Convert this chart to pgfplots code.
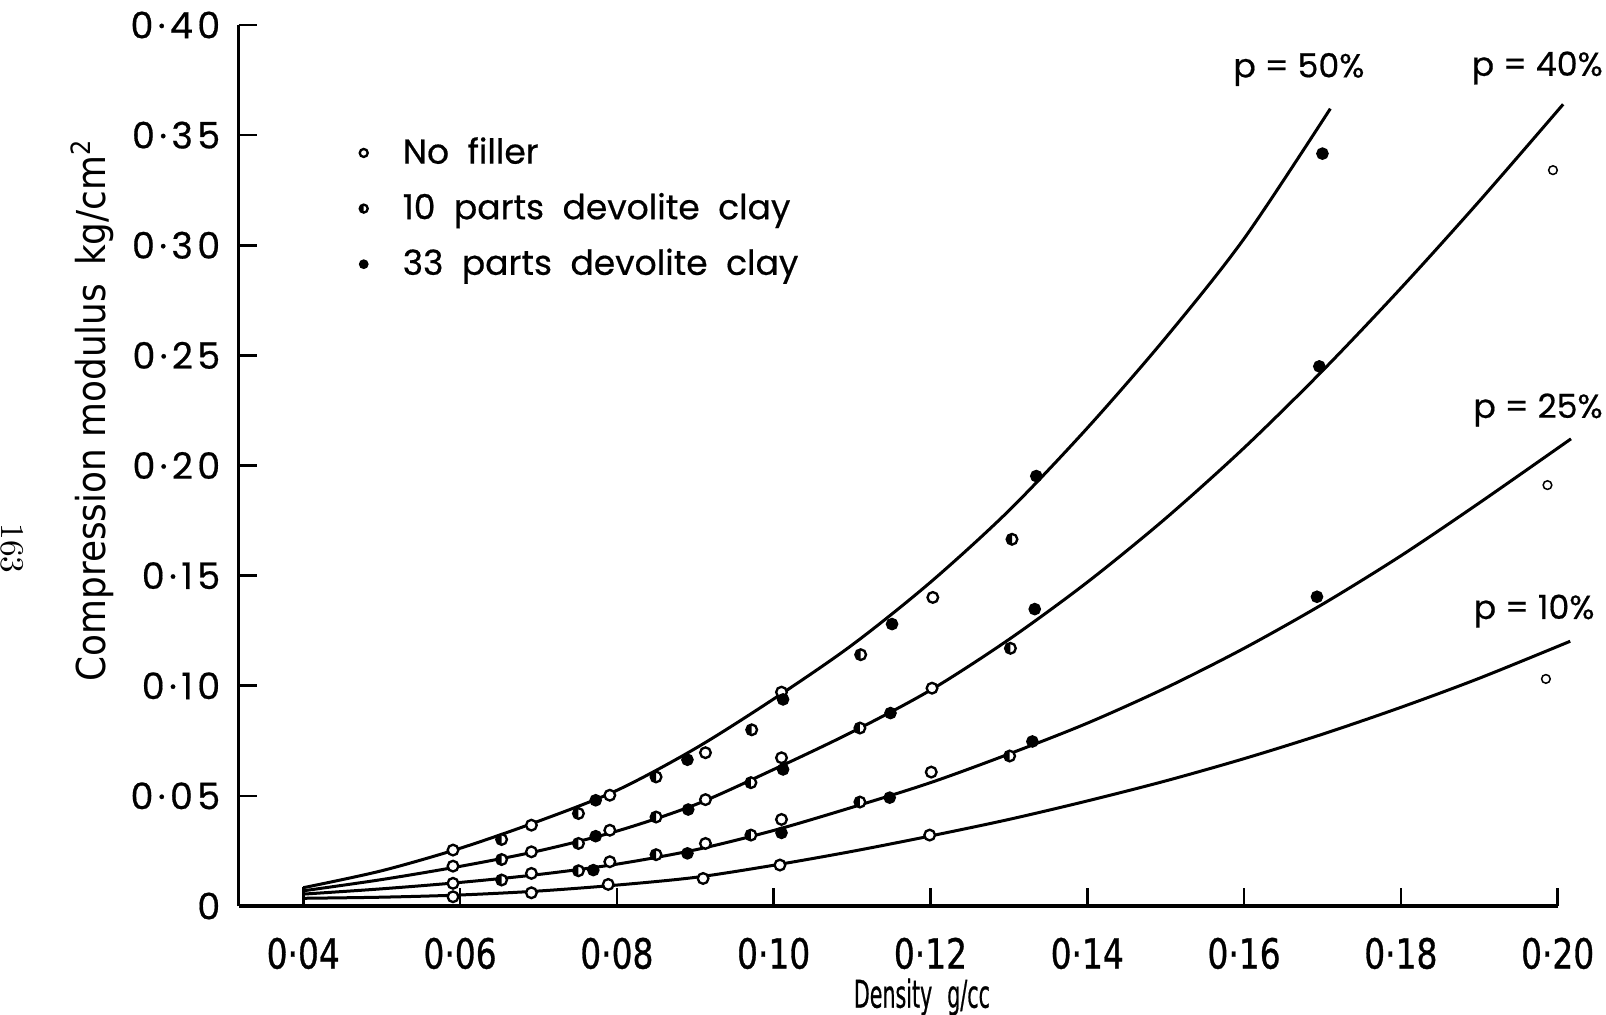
\documentclass[border=0pt]{standalone}
\usepackage{graphicx}
\usepackage{pgfplots}
\pgfplotsset{compat=1.18}
\usepackage{fontspec}
\newfontfamily\pop[FakeBold=0.5]{Poppins}
\newfontfamily\popw[LetterSpace=12,FakeBold=0.5]{Poppins}
\newfontfamily\djc{DejaVu Sans Condensed}
\newfontfamily\djcb[FakeBold=0.8]{DejaVu Sans Condensed}
\newcommand\cx[1]{\scalebox{0.88}[1]{#1}}
\usetikzlibrary{plotmarks}

\pgfdeclareplotmark{lhalf}{%
  \pgfpathcircle{\pgfpointorigin}{\pgfplotmarksize}%
  \pgfsetfillcolor{white}\pgfusepathqfill
  \pgfpathmoveto{\pgfqpoint{0pt}{\pgfplotmarksize}}%
  \pgfpatharc{90}{270}{\pgfplotmarksize}%
  \pgfpathclose
  \pgfsetfillcolor{black}\pgfusepathqfill
  \pgfpathcircle{\pgfpointorigin}{\pgfplotmarksize}%
  \pgfusepathqstroke
}

\begin{document}
\begin{tikzpicture}
\begin{axis}[name=ax,
  scale only axis, width=395.7bp, height=264.3bp,
  xmin=0.03176, xmax=0.20, ymin=0, ymax=0.40,
  enlargelimits=false, clip=false,
  axis lines=left, axis line style={-, line width=1bp},
  tick align=inside, major tick length=5.5bp,
  tick style={line width=0.8bp, black},
  xtick={0.04,0.06,0.08,0.10,0.12,0.14,0.16,0.18,0.20},
  xticklabels={\cx{0·04},\cx{0·06},\cx{0·08},\cx{0·10},\cx{0·12},\cx{0·14},\cx{0·16},\cx{0·18},\cx{0·20}},
  ytick={0,0.05,0.10,0.15,0.20,0.25,0.30,0.35,0.40},
  yticklabels={0\hspace{2bp},0·05,0·10,0·15,0·20,0·25,0·30,0·35,0·40},
  xticklabel style={font=\djcb\fontsize{12.5}{14}\selectfont, yshift=-6bp},
  yticklabel style={font=\popw\fontsize{11}{13}\selectfont, xshift=-2bp},
  xlabel={\scalebox{0.6}[1]{Density}\hspace{4.5bp}\scalebox{0.6}[1]{g/cc}},
  xlabel style={font=\djcb\fontsize{11.5}{14}\selectfont, at={(axis description cs:0.518,0)}, anchor=base, yshift=-30.5bp},
  ylabel={Compression modulus\, kg/cm\textsuperscript{2}},
  ylabel style={font=\djc\fontsize{12}{14}\selectfont, at={(axis description cs:-0.111,0.563)}, anchor=center},
  legend style={at={(axis description cs:0.0913,0.879)}, anchor=north west, draw=none, fill=none,
    font=\pop\fontsize{10.4}{12}\selectfont, row sep=4.3bp, inner sep=0pt,
    nodes={inner sep=1.5bp},
    /tikz/every odd column/.append style={column sep=9bp}},
  legend cell align=left,
  legend image code/.code={\draw[#1, mark size=1.2bp, line width=0.5bp] plot coordinates {(0.2cm,0cm)};},
]
% fitted curves
\addplot[black, line width=0.9bp, smooth, forget plot] coordinates {(0.040,0.0083)(0.050,0.0160)(0.060,0.0262)(0.070,0.0385)(0.080,0.0525)(0.090,0.0715)(0.100,0.0940)(0.110,0.1185)(0.120,0.1470)(0.130,0.1795)(0.140,0.2170)(0.150,0.2580)(0.160,0.3030)(0.171,0.3620)};
\addplot[black, line width=0.9bp, smooth, forget plot] coordinates {(0.040,0.0069)(0.050,0.0120)(0.060,0.0180)(0.070,0.0250)(0.080,0.0340)(0.090,0.0460)(0.100,0.0620)(0.110,0.0790)(0.120,0.0980)(0.130,0.1210)(0.140,0.1470)(0.150,0.1760)(0.160,0.2080)(0.170,0.2430)(0.180,0.2805)(0.190,0.3200)(0.2007,0.3640)};
\addplot[black, line width=0.9bp, smooth, forget plot] coordinates {(0.040,0.0054)(0.050,0.0078)(0.060,0.0107)(0.070,0.0143)(0.080,0.0190)(0.090,0.0255)(0.100,0.0343)(0.110,0.0448)(0.120,0.0560)(0.130,0.0690)(0.140,0.0830)(0.150,0.0990)(0.160,0.1170)(0.170,0.1370)(0.180,0.1590)(0.190,0.1830)(0.2017,0.2121)};
\addplot[black, line width=0.9bp, smooth, forget plot] coordinates {(0.040,0.0035)(0.050,0.0040)(0.060,0.0050)(0.070,0.0068)(0.080,0.0095)(0.090,0.0130)(0.100,0.0185)(0.110,0.0248)(0.120,0.0318)(0.130,0.0393)(0.140,0.0477)(0.150,0.0568)(0.160,0.0669)(0.170,0.0780)(0.180,0.0902)(0.190,0.1034)(0.2016,0.1202)};
\addplot[black, line width=0.8bp, forget plot] coordinates {(0.040,0.0025)(0.040,0.0085)};
% no filler
\addplot[only marks, mark=*, mark size=1.6bp, mark options={fill=white, draw=black, line width=0.7bp}] coordinates {
(0.0591,0.0254)(0.0591,0.0181)(0.0591,0.0103)(0.0591,0.0042)
(0.0691,0.0367)(0.0691,0.0246)(0.0691,0.0148)(0.0691,0.0060)
(0.0791,0.0503)(0.0791,0.0344)(0.0791,0.0201)(0.0789,0.0098)
(0.0913,0.0696)(0.0913,0.0483)(0.0913,0.0284)(0.0910,0.0125)
(0.1010,0.0971)(0.1010,0.0673)(0.1010,0.0393)(0.1008,0.0186)
(0.1203,0.1401)(0.1202,0.0989)(0.1201,0.0608)(0.1199,0.0322)};
\addlegendentry{No\ \ filler}
% 10 parts
\addplot[only marks, mark=lhalf, mark size=1.6bp, mark options={draw=black, line width=0.7bp}] coordinates {
(0.0653,0.0302)(0.0653,0.0211)(0.0653,0.0118)
(0.0751,0.0420)(0.0751,0.0284)(0.0751,0.0160)
(0.0850,0.0586)(0.0850,0.0404)(0.0850,0.0233)
(0.0972,0.0800)(0.0971,0.0560)(0.0971,0.0322)
(0.1111,0.1141)(0.1110,0.0808)(0.1110,0.0472)
(0.1304,0.1665)(0.1302,0.1170)(0.1301,0.0681)};
\addlegendentry{10\ \ parts\ \ devolite\ \ clay}
% 33 parts
\addplot[only marks, mark=*, mark size=1.7bp, mark options={fill=black, draw=black}] coordinates {
(0.0773,0.0480)(0.0773,0.0317)(0.0770,0.0163)
(0.0890,0.0664)(0.0891,0.0438)(0.0890,0.0239)
(0.1012,0.0938)(0.1012,0.0620)(0.1010,0.0332)
(0.1151,0.1280)(0.1149,0.0876)(0.1148,0.0492)
(0.1335,0.1952)(0.1333,0.1348)(0.1330,0.0747)
(0.1700,0.3416)(0.1696,0.2450)(0.1693,0.1404)};
\addlegendentry{33\ \ parts\ \ devolite\ \ clay}
% small open circles at high density
\addplot[only marks, forget plot, mark=*, mark size=1.3bp, mark options={fill=white, draw=black, line width=0.45bp}] coordinates {
(0.1994,0.3341)(0.1987,0.1911)(0.1985,0.1031)};
% curve labels
\node[font=\pop\fontsize{10}{12}\selectfont] at (axis cs:0.1670,0.3798) {p = 50\%};
\node[font=\pop\fontsize{10}{12}\selectfont] at (axis cs:0.1974,0.3805) {p = 40\%};
\node[font=\pop\fontsize{10}{12}\selectfont] at (axis cs:0.1975,0.2252) {p = 25\%};
\node[font=\pop\fontsize{10}{12}\selectfont] at (axis cs:0.1970,0.1339) {p = 10\%};
% page number
\node[font=\normalsize, xshift=-68bp, rotate=-90] at (axis description cs:0,0.406) {163};
\end{axis}
\pgfresetboundingbox
\path[use as bounding box] ([xshift=-71.6bp,yshift=-32.7bp]ax.south west) rectangle ([xshift=14.5bp,yshift=7.5bp]ax.north east);
\end{tikzpicture}
\end{document}
